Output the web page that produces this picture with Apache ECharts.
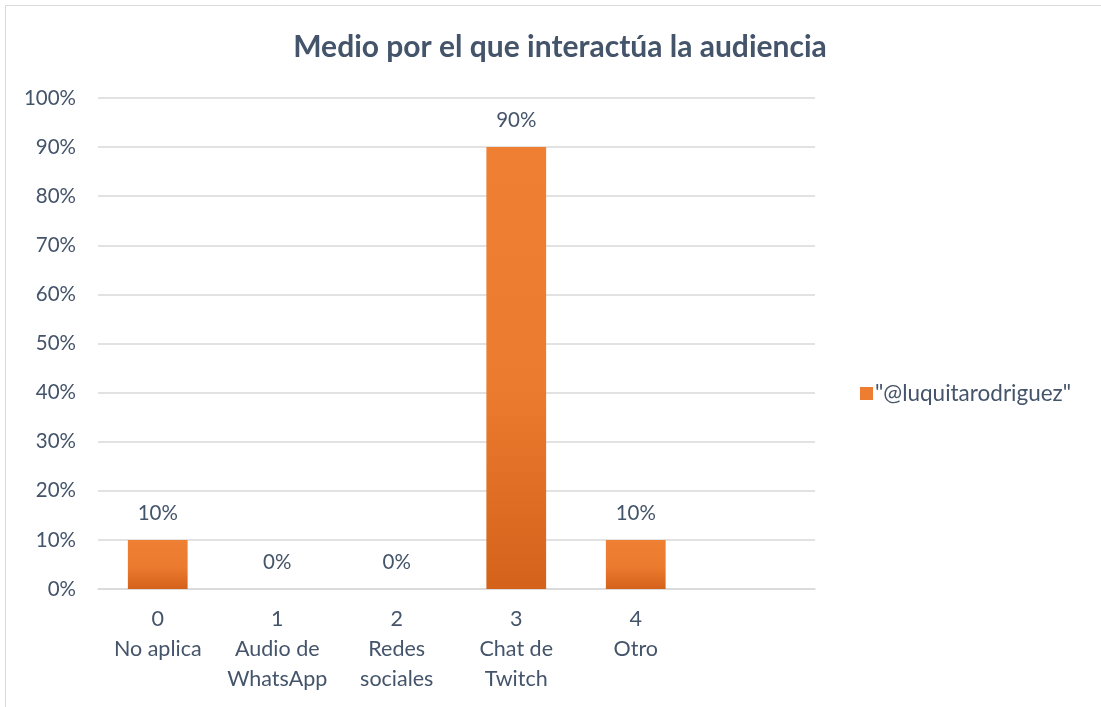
<!DOCTYPE html>
<html>
<head>
<meta charset="utf-8">
<script src="https://cdn.jsdelivr.net/npm/echarts@6/dist/echarts.min.js"></script>
<style>
  html, body { margin: 0; padding: 0; background: #fff; }
  #chart { width: 1101px; height: 707px; }
</style>
</head>
<body>
<div id="chart"></div>
<script>
const categories = ['0\nNo aplica', '1\nAudio de\nWhatsApp', '2\nRedes\nsociales', '3\nChat de\nTwitch', '4\nOtro', '']
const values = [10, 0, 0, 90, 10, null]
const seriesName = '"@luquitarodriguez"'
const titleText = 'Medio por el que interactúa la audiencia'

const ink = '#44546A'
const font = 'Lato, "Open Sans", sans-serif'

const chart = echarts.init(document.getElementById('chart'), null, { renderer: 'canvas' })

chart.setOption({
  animation: false,
  backgroundColor: '#fff',
  graphic: [{
    type: 'rect',
    shape: { x: 5.5, y: 5.5, width: 1110, height: 720 },
    style: { fill: 'none', stroke: '#D9D9D9', lineWidth: 1 },
    silent: true,
  }],
  title: {
    text: titleText,
    left: 555,
    textAlign: 'center',
    top: 27,
    textStyle: { color: ink, fontSize: 30, fontWeight: 'bold', fontFamily: font },
  },
  legend: {
    orient: 'vertical',
    left: 855,
    top: 377,
    itemWidth: 13,
    itemHeight: 13,
    itemGap: 6,
    icon: 'rect',
    textStyle: { color: ink, fontSize: 22.5, fontFamily: font, padding: [0, 0, 0, -3] },
    data: [{ name: seriesName, itemStyle: { color: '#ED7D31' } }],
  },
  grid: { left: 98, right: 286, top: 98, bottom: 118, containLabel: false },
  xAxis: {
    type: 'category',
    data: categories,
    axisLine: { lineStyle: { color: '#D9D9D9', width: 1.5 } },
    axisTick: { show: false },
    axisLabel: {
      color: ink, fontSize: 21.5, fontFamily: font, lineHeight: 30,
      margin: 15, interval: 0,
    },
  },
  yAxis: {
    type: 'value',
    min: 0,
    max: 100,
    interval: 10,
    axisLine: { show: false },
    axisTick: { show: false },
    axisLabel: { color: ink, fontSize: 20.5, fontFamily: font, margin: 22, formatter: (v) => v + '%' },
    splitLine: { lineStyle: { color: '#D9D9D9', width: 1.5 } },
  },
  series: [{
    name: seriesName,
    type: 'bar',
    data: values,
    barWidth: '50%',
    itemStyle: {
      color: {
        type: 'linear', x: 0, y: 0, x2: 0, y2: 1,
        colorStops: [
          { offset: 0, color: '#EE7F33' },
          { offset: 0.55, color: '#EB7B2F' },
          { offset: 1, color: '#D5621B' },
        ],
      },
    },
    label: {
      show: true,
      position: 'top',
      distance: 16,
      color: ink,
      fontSize: 20.5,
      fontFamily: font,
      formatter: (p) => p.value + '%',
    },
  }],
})
</script>
</body>
</html>
